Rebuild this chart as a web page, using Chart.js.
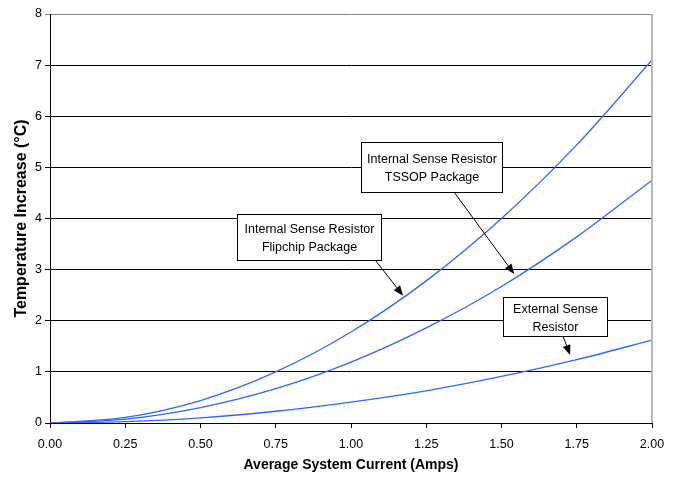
<!DOCTYPE html>
<html>
<head>
<meta charset="utf-8">
<script src="https://cdn.jsdelivr.net/npm/chart.js@4.4.1/dist/chart.umd.min.js"></script>
<style>
html, body { margin: 0; padding: 0; background: #fff; }
</style>
</head>
<body>
<canvas id="chart" width="674" height="482"></canvas>
<script>
// Average system current (A)
const currents = [0, 0.25, 0.5, 0.75, 1.0, 1.25, 1.5, 1.75, 2.0];
// Temperature increase (°C)
const flipchip = [0, 0.11, 0.44, 1.0, 1.78, 2.78, 4.0, 5.44, 7.1];
const tssop = [0, 0.074, 0.30, 0.67, 1.19, 1.86, 2.67, 3.64, 4.75];
const external = [0, 0.025, 0.10, 0.23, 0.41, 0.63, 0.91, 1.24, 1.62];

const xMin = 0, xMax = 2, xStep = 0.25;
const yMin = 0, yMax = 8, yStep = 1;

// callout boxes (data units) and their arrows
const notes = [
    { lines: ['Internal Sense Resistor', 'TSSOP Package'], x0: 1.032, x1: 1.502, y0: 5.502, y1: 4.518, from: [1.342, 4.519], to: [1.542, 2.915] },
    { lines: ['Internal Sense Resistor', 'Flipchip Package'], x0: 0.620, x1: 1.099, y0: 4.088, y1: 3.188, from: [1.082, 3.174], to: [1.173, 2.490] },
    { lines: ['External Sense', 'Resistor'], x0: 1.504, x1: 1.850, y0: 2.471, y1: 1.707, from: [1.704, 1.702], to: [1.728, 1.330] }
];

const FONT = 'Arial, "Liberation Sans", sans-serif';
const BLUE = '#3366ff';

function toPoints(ys)
{
    return currents.map((x, i) => ({ x: x, y: ys[i] }));
}

function line(data)
{
    return {
        data: toPoints(data),
        borderColor: BLUE,
        borderWidth: 1.3,
        pointRadius: 0,
        fill: false,
        cubicInterpolationMode: 'monotone'
    };
}

const notesPlugin = {
    id: 'notes',
    afterDatasetsDraw(chart)
    {
        const ctx = chart.ctx;
        const xs = chart.scales.x, ys = chart.scales.y;
        const area = chart.chartArea;

        // right border of the plot
        ctx.save();
        ctx.strokeStyle = '#b8b8b8';
        ctx.lineWidth = 2;
        ctx.beginPath();
        ctx.moveTo(area.right, area.top);
        ctx.lineTo(area.right, area.bottom);
        ctx.stroke();
        ctx.restore();

        notes.forEach(n => {
            const l = Math.round(xs.getPixelForValue(n.x0)) + 0.5;
            const r = Math.round(xs.getPixelForValue(n.x1)) + 0.5;
            const t = Math.round(ys.getPixelForValue(n.y0)) + 0.5;
            const b = Math.round(ys.getPixelForValue(n.y1)) + 0.5;

            ctx.save();
            ctx.fillStyle = '#fff';
            ctx.fillRect(l, t, r - l, b - t);
            ctx.strokeStyle = '#000';
            ctx.lineWidth = 1;
            ctx.strokeRect(l, t, r - l, b - t);

            ctx.fillStyle = '#000';
            ctx.font = '12.5px ' + FONT;
            ctx.textAlign = 'center';
            ctx.textBaseline = 'middle';
            const cx = (l + r) / 2, cy = (t + b) / 2 + 1.5;
            const gap = 18;
            n.lines.forEach((s, i) => {
                ctx.fillText(s, cx, cy + (i - (n.lines.length - 1) / 2) * gap);
            });

            // arrow
            const ax = xs.getPixelForValue(n.from[0]), ay = ys.getPixelForValue(n.from[1]);
            const bx = xs.getPixelForValue(n.to[0]), by = ys.getPixelForValue(n.to[1]);
            const ang = Math.atan2(by - ay, bx - ax);
            const head = 10, half = 4;
            const hx = bx - head * Math.cos(ang), hy = by - head * Math.sin(ang);
            ctx.beginPath();
            ctx.moveTo(ax, ay);
            ctx.lineTo(hx, hy);
            ctx.stroke();
            ctx.beginPath();
            ctx.moveTo(bx, by);
            ctx.lineTo(hx + half * Math.sin(ang), hy - half * Math.cos(ang));
            ctx.lineTo(hx - half * Math.sin(ang), hy + half * Math.cos(ang));
            ctx.closePath();
            ctx.fill();
            ctx.restore();
        });
    }
};

new Chart(document.getElementById('chart'), {
    type: 'line',
    data: {
        datasets: [line(flipchip), line(tssop), line(external)]
    },
    options: {
        responsive: false,
        animation: false,
        layout: { padding: { left: 0, right: 22, top: 14, bottom: 0 } },
        plugins: {
            legend: { display: false },
            tooltip: { enabled: false }
        },
        scales: {
            x: {
                type: 'linear',
                min: xMin,
                max: xMax,
                afterFit: s => { s.height = 59; },
                ticks: {
                    stepSize: xStep,
                    color: '#000',
                    padding: 9,
                    maxRotation: 0,
                    font: { family: FONT, size: 12.5 },
                    callback: v => v.toFixed(2)
                },
                grid: {
                    drawOnChartArea: false,
                    drawTicks: true,
                    tickLength: 5,
                    color: '#000'
                },
                border: { color: '#000', width: 1 },
                title: {
                    display: true,
                    text: 'Average System Current (Amps)',
                    color: '#000',
                    font: { family: FONT, size: 14, weight: 'bold' },
                    padding: { top: 8, bottom: 8 }
                }
            },
            y: {
                min: yMin,
                max: yMax,
                afterFit: s => { s.width = 50; },
                ticks: {
                    stepSize: yStep,
                    color: '#000',
                    padding: 3,
                    font: { family: FONT, size: 12.5 }
                },
                grid: {
                    drawTicks: true,
                    tickLength: 5,
                    color: c => (c.tick && c.tick.value === yMax) ? '#808080' : '#000',
                    lineWidth: 1
                },
                border: { color: '#000', width: 1 },
                title: {
                    display: true,
                    text: 'Temperature Increase (°C)',
                    color: '#000',
                    font: { family: FONT, size: 16, weight: 'bold' },
                    padding: { top: 12, bottom: 12 }
                }
            }
        }
    },
    plugins: [notesPlugin]
});
</script>
</body>
</html>
